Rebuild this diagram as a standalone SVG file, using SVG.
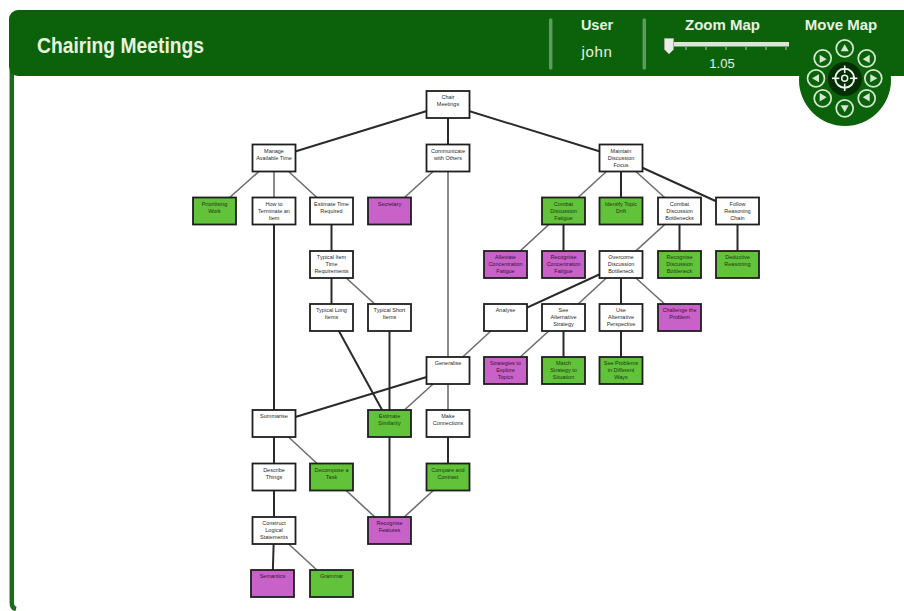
<svg xmlns="http://www.w3.org/2000/svg" width="904" height="611" viewBox="0 0 904 611">
<style>
.hd{fill:#0b620b}
.ttl{font-family:"Liberation Sans",Arial,sans-serif;font-weight:bold;fill:#e9f2dc}
.htx{font-family:"Liberation Sans",Arial,sans-serif;fill:#e8f1e0;text-anchor:middle}
.n rect{stroke:#1e1e1e;stroke-width:1.8}
.w rect{fill:#ffffff}
.g rect{fill:#62c23a}
.p rect{fill:#c862c8}
.n text{font-family:"Liberation Sans",Arial,sans-serif;font-size:5.5px;text-anchor:middle;fill:#2a2a2a}
.g text{fill:#1c3a10}
.p text{fill:#3a1040}
.d{stroke:#2a2a2a;stroke-width:2;fill:none}
.l{stroke:#6e6e6e;stroke-width:1.6;fill:none}
.mc{fill:none;stroke:#d4ead0;stroke-width:1.7}
.mt{fill:#d4ead0}
</style>
<rect width="904" height="611" fill="#ffffff"/>
<g id="frame">
<path d="M11.8,70 L11.8,603 Q11.8,608 16,609" fill="none" stroke="#1d6a1d" stroke-width="4.5"/>
<rect class="hd" x="9" y="10" width="910" height="66" rx="9"/>
<text class="ttl" x="37" y="53" font-size="22" textLength="167" lengthAdjust="spacingAndGlyphs">Chairing Meetings</text>
<line x1="550.7" y1="20" x2="550.7" y2="68" stroke="#5f9a5f" stroke-width="3.5" stroke-linecap="round"/>
<line x1="644.3" y1="20" x2="644.3" y2="68" stroke="#5f9a5f" stroke-width="3.5" stroke-linecap="round"/>
<text class="htx" x="597" y="30" font-size="14.5" font-weight="bold">User</text>
<text class="htx" x="597" y="57" font-size="15" letter-spacing="0.6">john</text>
<text class="htx" x="722.5" y="30" font-size="15" font-weight="bold">Zoom Map</text>
<text class="htx" x="841" y="30" font-size="15" font-weight="bold">Move Map</text>
</g>
<g id="zoom-slider">
<rect x="665" y="42" width="124" height="4.5" fill="#dde5d8"/>
<g stroke="#b9c8b4" stroke-width="1">
<line x1="686" y1="47" x2="686" y2="50"/><line x1="706" y1="47" x2="706" y2="50"/><line x1="726" y1="47" x2="726" y2="50"/><line x1="746" y1="47" x2="746" y2="50"/><line x1="766" y1="47" x2="766" y2="50"/><line x1="786" y1="47" x2="786" y2="50"/>
</g>
<path d="M664.5,38.5 H673.5 V49.5 L669,54 L664.5,49.5 Z" fill="#e9ede5" stroke="#a0a89a" stroke-width="1"/>
<text class="htx" x="722" y="68" font-size="13">1.05</text>
</g>
<g id="move-map">
<circle cx="845" cy="80" r="46" fill="#0b620b"/>
<circle cx="845" cy="79" r="17" fill="#042e04"/>
<circle class="mc" cx="844.7" cy="48.3" r="8.5"/>
<circle class="mc" cx="822.7" cy="58.3" r="8.5"/>
<circle class="mc" cx="866.7" cy="58.3" r="8.5"/>
<circle class="mc" cx="816" cy="78.3" r="8.5"/>
<circle class="mc" cx="873.3" cy="78.3" r="8.5"/>
<circle class="mc" cx="822.7" cy="98.3" r="8.5"/>
<circle class="mc" cx="866.7" cy="98.3" r="8.5"/>
<circle class="mc" cx="844.7" cy="108.3" r="8.5"/>
<polygon class="mt" points="844.7,44.3 840.7,51.3 848.7,51.3"/>
<polygon class="mt" points="844.7,112.3 840.7,105.3 848.7,105.3"/>
<polygon class="mt" points="812,78.3 819,74.3 819,82.3"/>
<polygon class="mt" points="877.3,78.3 870.3,74.3 870.3,82.3"/>
<polygon class="mt" points="826.7,59.3 819.7,54.8 819.7,63"/>
<polygon class="mt" points="862.7,59.3 869.7,54.8 869.7,63"/>
<polygon class="mt" points="826.7,97.3 819.7,93 819.7,101.5"/>
<polygon class="mt" points="862.7,97.3 869.7,93 869.7,101.5"/>
<circle cx="844.7" cy="78.3" r="9.5" fill="none" stroke="#f0f6ee" stroke-width="2"/>
<circle cx="844.7" cy="78.3" r="3" fill="none" stroke="#f0f6ee" stroke-width="1.5"/>
<g stroke="#f0f6ee" stroke-width="1.6">
<line x1="844.7" y1="65.5" x2="844.7" y2="73"/><line x1="844.7" y1="83.6" x2="844.7" y2="91"/>
<line x1="832" y1="78.3" x2="839.4" y2="78.3"/><line x1="850" y1="78.3" x2="857.4" y2="78.3"/>
</g>
</g>
<g id="connectors">
<line class="d" x1="448" y1="104.5" x2="274" y2="158"/>
<line class="d" x1="448" y1="104.5" x2="448" y2="158"/>
<line class="d" x1="448" y1="104.5" x2="621" y2="158"/>
<line class="l" x1="274" y1="158" x2="214.5" y2="211"/>
<line class="l" x1="274" y1="158" x2="274" y2="211" stroke-width="2.2"/>
<line class="l" x1="274" y1="158" x2="331.5" y2="211"/>
<line class="l" x1="448" y1="158" x2="389.5" y2="211"/>
<line class="l" x1="448" y1="158" x2="448" y2="370.5" stroke-width="2.4"/>
<line class="l" x1="621" y1="158" x2="563.5" y2="211"/>
<line class="d" x1="621" y1="158" x2="621" y2="211"/>
<line class="l" x1="621" y1="158" x2="679.5" y2="211"/>
<line class="d" x1="621" y1="158" x2="737.5" y2="211"/>
<line class="l" x1="563.5" y1="211" x2="505.5" y2="264.5"/>
<line class="d" x1="563.5" y1="211" x2="563.5" y2="264.5"/>
<line class="l" x1="679.5" y1="211" x2="621" y2="264.5"/>
<line class="d" x1="679.5" y1="211" x2="679.5" y2="264.5"/>
<line class="d" x1="737.5" y1="211" x2="737.5" y2="264.5"/>
<line class="d" x1="331.5" y1="211" x2="331.5" y2="264.5"/>
<line class="d" x1="331.5" y1="264.5" x2="331.5" y2="317.5"/>
<line class="l" x1="331.5" y1="264.5" x2="389.5" y2="317.5"/>
<line class="d" x1="621" y1="264.5" x2="505.5" y2="317.5"/>
<line class="l" x1="621" y1="264.5" x2="563.5" y2="317.5"/>
<line class="d" x1="621" y1="264.5" x2="621" y2="317.5"/>
<line class="l" x1="621" y1="264.5" x2="679.5" y2="317.5"/>
<line class="l" x1="505.5" y1="317.5" x2="448" y2="370.5"/>
<line class="l" x1="563.5" y1="317.5" x2="505.5" y2="370.5"/>
<line class="d" x1="563.5" y1="317.5" x2="563.5" y2="370.5"/>
<line class="d" x1="621" y1="317.5" x2="621" y2="370.5"/>
<line class="d" x1="331.5" y1="317.5" x2="389.5" y2="423.5"/>
<line class="d" x1="389.5" y1="317.5" x2="389.5" y2="423.5"/>
<line class="d" x1="448" y1="370.5" x2="274" y2="423.5"/>
<line class="l" x1="448" y1="370.5" x2="389.5" y2="423.5"/>
<line class="l" x1="448" y1="370.5" x2="448" y2="423.5" stroke-width="2.2"/>
<line class="d" x1="274" y1="211" x2="274" y2="423.5"/>
<line class="d" x1="274" y1="423.5" x2="274" y2="477"/>
<line class="l" x1="274" y1="423.5" x2="331.5" y2="477"/>
<line class="d" x1="448" y1="423.5" x2="448" y2="477"/>
<line class="d" x1="274" y1="477" x2="274" y2="530.5"/>
<line class="l" x1="331.5" y1="477" x2="389.5" y2="530.5"/>
<line class="d" x1="389.5" y1="423.5" x2="389.5" y2="530.5"/>
<line class="l" x1="448" y1="477" x2="389.5" y2="530.5"/>
<line class="d" x1="274" y1="530.5" x2="272.5" y2="583.5"/>
<line class="l" x1="274" y1="530.5" x2="331.5" y2="583.5"/>
</g>
<g id="nodes">
<g id="n-chair" class="n w" transform="translate(426.5,91)"><rect width="43" height="27"/><text x="21.5" y="8">Chair</text><text x="21.5" y="15">Meetings</text></g>
<g id="n-manage" class="n w" transform="translate(252.5,144.5)"><rect width="43" height="27"/><text x="21.5" y="8">Manage</text><text x="21.5" y="15">Available Time</text></g>
<g id="n-communicate" class="n w" transform="translate(426.5,144.5)"><rect width="43" height="27"/><text x="21.5" y="8">Communicate</text><text x="21.5" y="15">with Others</text></g>
<g id="n-maintain" class="n w" transform="translate(599.5,144.5)"><rect width="43" height="27"/><text x="21.5" y="8">Maintain</text><text x="21.5" y="15">Discussion</text><text x="21.5" y="22">Focus</text></g>
<g id="n-prioritising" class="n g" transform="translate(193,197.5)"><rect width="43" height="27"/><text x="21.5" y="8">Prioritising</text><text x="21.5" y="15">Work</text></g>
<g id="n-terminate" class="n w" transform="translate(252.5,197.5)"><rect width="43" height="27"/><text x="21.5" y="8">How to</text><text x="21.5" y="15">Terminate an</text><text x="21.5" y="22">Item</text></g>
<g id="n-estimate-time" class="n w" transform="translate(310,197.5)"><rect width="43" height="27"/><text x="21.5" y="8">Estimate Time</text><text x="21.5" y="15">Required</text></g>
<g id="n-secretary" class="n p" transform="translate(368,197.5)"><rect width="43" height="27"/><text x="21.5" y="8">Secretary</text></g>
<g id="n-combat-fatigue" class="n g" transform="translate(542,197.5)"><rect width="43" height="27"/><text x="21.5" y="8">Combat</text><text x="21.5" y="15">Discussion</text><text x="21.5" y="22">Fatigue</text></g>
<g id="n-topic-drift" class="n g" transform="translate(599.5,197.5)"><rect width="43" height="27"/><text x="21.5" y="8">Identify Topic</text><text x="21.5" y="15">Drift</text></g>
<g id="n-combat-bottlenecks" class="n w" transform="translate(658,197.5)"><rect width="43" height="27"/><text x="21.5" y="8">Combat</text><text x="21.5" y="15">Discussion</text><text x="21.5" y="22">Bottlenecks</text></g>
<g id="n-follow" class="n w" transform="translate(716,197.5)"><rect width="43" height="27"/><text x="21.5" y="8">Follow</text><text x="21.5" y="15">Reasoning</text><text x="21.5" y="22">Chain</text></g>
<g id="n-typical-item" class="n w" transform="translate(310,251)"><rect width="43" height="27"/><text x="21.5" y="8">Typical Item</text><text x="21.5" y="15">Time</text><text x="21.5" y="22">Requirements</text></g>
<g id="n-alleviate" class="n p" transform="translate(484,251)"><rect width="43" height="27"/><text x="21.5" y="8">Alleviate</text><text x="21.5" y="15">Concentration</text><text x="21.5" y="22">Fatigue</text></g>
<g id="n-recognise-conc" class="n p" transform="translate(542,251)"><rect width="43" height="27"/><text x="21.5" y="8">Recognise</text><text x="21.5" y="15">Concentration</text><text x="21.5" y="22">Fatigue</text></g>
<g id="n-overcome" class="n w" transform="translate(599.5,251)"><rect width="43" height="27"/><text x="21.5" y="8">Overcome</text><text x="21.5" y="15">Discussion</text><text x="21.5" y="22">Bottleneck</text></g>
<g id="n-recognise-db" class="n g" transform="translate(658,251)"><rect width="43" height="27"/><text x="21.5" y="8">Recognise</text><text x="21.5" y="15">Discussion</text><text x="21.5" y="22">Bottleneck</text></g>
<g id="n-deductive" class="n g" transform="translate(716,251)"><rect width="43" height="27"/><text x="21.5" y="8">Deductive</text><text x="21.5" y="15">Reasoning</text></g>
<g id="n-typical-long" class="n w" transform="translate(310,304)"><rect width="43" height="27"/><text x="21.5" y="8">Typical Long</text><text x="21.5" y="15">Items</text></g>
<g id="n-typical-short" class="n w" transform="translate(368,304)"><rect width="43" height="27"/><text x="21.5" y="8">Typical Short</text><text x="21.5" y="15">Items</text></g>
<g id="n-analyse" class="n w" transform="translate(484,304)"><rect width="43" height="27"/><text x="21.5" y="8">Analyse</text></g>
<g id="n-see-alt" class="n w" transform="translate(542,304)"><rect width="43" height="27"/><text x="21.5" y="8">See</text><text x="21.5" y="15">Alternative</text><text x="21.5" y="22">Strategy</text></g>
<g id="n-use-alt" class="n w" transform="translate(599.5,304)"><rect width="43" height="27"/><text x="21.5" y="8">Use</text><text x="21.5" y="15">Alternative</text><text x="21.5" y="22">Perspective</text></g>
<g id="n-challenge" class="n p" transform="translate(658,304)"><rect width="43" height="27"/><text x="21.5" y="8">Challenge the</text><text x="21.5" y="15">Problem</text></g>
<g id="n-generalise" class="n w" transform="translate(426.5,357)"><rect width="43" height="27"/><text x="21.5" y="8">Generalise</text></g>
<g id="n-strategies" class="n p" transform="translate(484,357)"><rect width="43" height="27"/><text x="21.5" y="8">Strategies to</text><text x="21.5" y="15">Explore</text><text x="21.5" y="22">Topics</text></g>
<g id="n-match" class="n g" transform="translate(542,357)"><rect width="43" height="27"/><text x="21.5" y="8">Match</text><text x="21.5" y="15">Strategy to</text><text x="21.5" y="22">Situation</text></g>
<g id="n-see-problems" class="n g" transform="translate(599.5,357)"><rect width="43" height="27"/><text x="21.5" y="8">See Problems</text><text x="21.5" y="15">in Different</text><text x="21.5" y="22">Ways</text></g>
<g id="n-summarise" class="n w" transform="translate(252.5,410)"><rect width="43" height="27"/><text x="21.5" y="8">Summarise</text></g>
<g id="n-estimate-similarity" class="n g" transform="translate(368,410)"><rect width="43" height="27"/><text x="21.5" y="8">Estimate</text><text x="21.5" y="15">Similarity</text></g>
<g id="n-make-connections" class="n w" transform="translate(426.5,410)"><rect width="43" height="27"/><text x="21.5" y="8">Make</text><text x="21.5" y="15">Connections</text></g>
<g id="n-describe" class="n w" transform="translate(252.5,463.5)"><rect width="43" height="27"/><text x="21.5" y="8">Describe</text><text x="21.5" y="15">Things</text></g>
<g id="n-decompose" class="n g" transform="translate(310,463.5)"><rect width="43" height="27"/><text x="21.5" y="8">Decompose a</text><text x="21.5" y="15">Task</text></g>
<g id="n-compare" class="n g" transform="translate(426.5,463.5)"><rect width="43" height="27"/><text x="21.5" y="8">Compare and</text><text x="21.5" y="15">Contrast</text></g>
<g id="n-construct" class="n w" transform="translate(252.5,517)"><rect width="43" height="27"/><text x="21.5" y="8">Construct</text><text x="21.5" y="15">Logical</text><text x="21.5" y="22">Statements</text></g>
<g id="n-recognise-features" class="n p" transform="translate(368,517)"><rect width="43" height="27"/><text x="21.5" y="8">Recognise</text><text x="21.5" y="15">Features</text></g>
<g id="n-semantics" class="n p" transform="translate(251,570)"><rect width="43" height="27"/><text x="21.5" y="8">Semantics</text></g>
<g id="n-grammar" class="n g" transform="translate(310,570)"><rect width="43" height="27"/><text x="21.5" y="8">Grammar</text></g>
</g>
</svg>
